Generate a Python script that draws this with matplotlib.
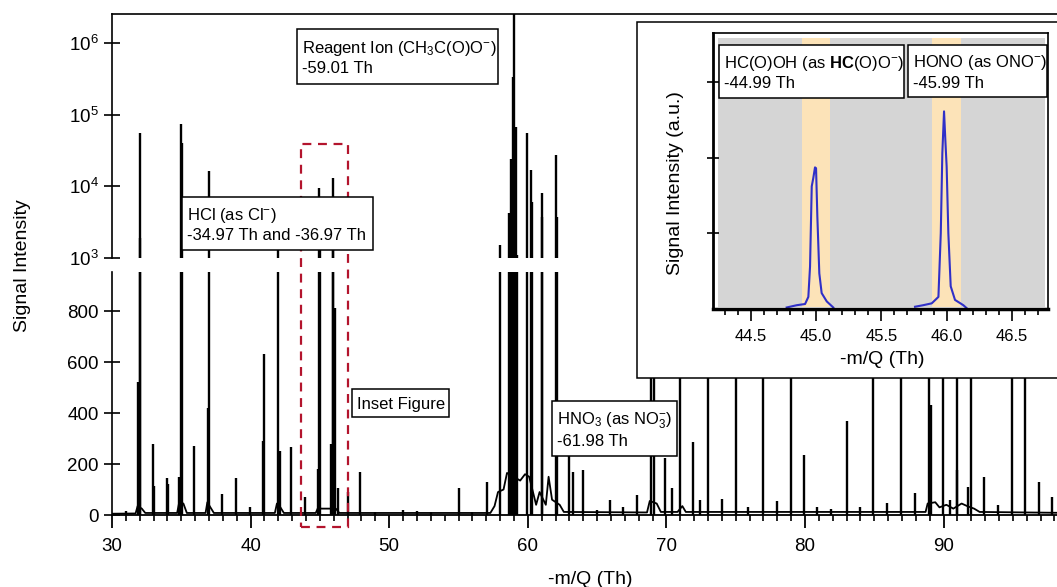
import matplotlib
matplotlib.use("Agg")
import matplotlib.pyplot as plt
from matplotlib.patches import Rectangle
from matplotlib.transforms import blended_transform_factory
from matplotlib.ticker import MultipleLocator, FixedLocator, NullLocator, NullFormatter

plt.rcParams['font.family'] = ['Liberation Sans', 'DejaVu Sans']
plt.rcParams['mathtext.fontset'] = 'custom'
plt.rcParams['mathtext.rm'] = 'Liberation Sans'
plt.rcParams['mathtext.it'] = 'Liberation Sans:italic'
plt.rcParams['mathtext.bf'] = 'Liberation Sans:bold'

# peak apexes of the spectrum (-m/Q in Th, signal)
peak_mz = [31.0, 31.85, 32.0, 32.05, 32.93, 33.05, 33.97, 34.05, 34.85, 34.95, 35.05,
           35.95, 36.9, 36.97, 37.94, 38.98, 39.95, 40.9, 40.97, 41.98, 42.1, 42.95,
           43.95, 44.85, 44.96, 45.02, 45.8, 45.92, 45.97, 46.1, 46.3, 47.0, 47.92,
           49.0, 51.0, 52.0, 53.0, 55.0, 56.0, 57.03,
           57.98, 58.62, 58.8, 58.95, 59.01, 59.12, 59.24, 59.97, 60.2, 60.33,
           61.0, 61.06, 62.0, 62.08, 62.95, 63.24, 63.96, 64.97, 65.93, 66.9, 67.86,
           68.88, 69.1, 69.9, 70.38, 70.98, 71.9, 72.4, 72.98, 73.99, 75.0, 75.9,
           77.0, 77.95, 78.99, 79.93, 80.9, 81.9, 83.0, 83.97, 84.93, 85.94, 86.93,
           87.94, 88.95, 89.1, 89.93, 90.46, 90.94, 91.0, 91.78, 91.95, 92.94, 93.95,
           94.91, 95.87, 96.9, 97.84]
peak_int = [15, 520, 55000, 1900, 280, 115, 145, 120, 150, 75000, 40000,
            270, 420, 16600, 82, 145, 30, 290, 630, 1400, 250, 268,
            70, 180, 9500, 2100, 280, 13000, 2500, 810, 105, 92, 170,
            12, 20, 15, 12, 105, 10, 130,
            1500, 4300, 24000, 340000, 3000000, 68000, 1100, 55000, 17000, 6000,
            8000, 3800, 27500, 3800, 300, 170, 175, 20, 60, 30, 80,
            3000, 2500, 222, 106, 3000, 287, 60, 3000, 62, 3000, 30,
            3000, 55, 3000, 235, 30, 25, 370, 33, 3000, 47, 3000,
            85, 3000, 430, 3000, 59, 3000, 176, 111, 3000, 148, 39,
            3000, 3000, 131, 72]

# baseline and valleys between peaks
base_mz = [30.0, 31.7, 31.85, 32.15, 32.4, 34.7, 34.85, 35.15, 35.4, 36.75, 36.88, 37.1,
           37.35, 41.75, 41.9, 42.15, 42.4, 44.7, 44.88, 45.1, 45.7, 46.15, 46.4,
           57.3, 57.6, 57.85, 58.25, 58.5, 59.45, 59.8, 60.1, 60.6, 60.85, 61.3, 61.5,
           61.75, 62.3, 62.6, 68.6, 68.8, 69.3, 69.6, 70.8, 71.15, 71.4, 88.7, 88.85,
           89.4, 89.7, 90.2, 90.7, 91.3, 91.7, 92.2, 92.6, 99.3]
base_int = [5, 6, 35, 25, 8, 8, 50, 45, 8, 8, 50, 30,
            8, 8, 45, 30, 8, 8, 30, 25, 25, 25, 8,
            8, 35, 90, 100, 165, 135, 160, 150, 40, 90, 40, 150,
            60, 40, 12, 10, 55, 45, 12, 12, 35, 12, 12, 45,
            50, 30, 40, 25, 45, 35, 25, 12, 8]

# inset: the two peaks at -44.99 and -45.99 Th
inset_mz_1 = [44.775, 44.852, 44.916, 44.941, 44.954, 44.967, 44.979, 44.992, 45.0,
              45.01, 45.025, 45.043, 45.082, 45.132]
inset_int_1 = [0.02, 0.05, 0.066, 0.16, 0.56, 1.62, 1.73, 1.87, 1.86,
               1.22, 0.47, 0.21, 0.1, 0.02]
inset_mz_2 = [45.758, 45.82, 45.886, 45.937, 45.955, 45.967, 45.98, 45.99, 46.0,
              46.013, 46.031, 46.064, 46.128, 46.154]
inset_int_2 = [0.03, 0.05, 0.075, 0.16, 1.0, 2.06, 2.61, 2.23, 1.88,
               1.0, 0.3, 0.12, 0.05, 0.01]
inset_span = (44.25, 46.75)
inset_bands = [(44.89, 45.11), (45.89, 46.11)]
inset_window = (43.65, 47.0)

W, H = 1057, 587
fig = plt.figure(figsize=(W / 100, H / 100), dpi=100)


def fx(px):
    return px / W


def fy(py):
    return 1 - py / H


px_per_th = 13.86
ax_top = fig.add_axes([fx(112), fy(258), fx(960), (258 - 14) / H])
ax_bot = fig.add_axes([fx(112), fy(515), fx(960), (515 - 272) / H])

for ax in (ax_top, ax_bot):
    ax.vlines(peak_mz, 1, peak_int, color='black', lw=1.7)
    ax.plot(base_mz, base_int, color='black', lw=1.3)
    ax.set_xlim(30, 30 + 960 / px_per_th)
    ax.spines['right'].set_visible(False)
    ax.spines['left'].set_linewidth(1.2)
    ax.tick_params(axis='y', direction='inout', length=11, width=1.2,
                   labelsize=13.5, pad=4)

ax_top.set_yscale('log')
ax_top.set_ylim(1e3, 2.57e6)
ax_top.yaxis.set_major_locator(FixedLocator([1e3, 1e4, 1e5, 1e6]))
ax_top.yaxis.set_minor_locator(NullLocator())
ax_top.spines['bottom'].set_visible(False)
ax_top.spines['top'].set_linewidth(1.2)
ax_top.tick_params(axis='x', which='both', bottom=False, labelbottom=False)

ax_bot.set_ylim(0, 953)
ax_bot.yaxis.set_major_locator(MultipleLocator(200))
ax_bot.spines['top'].set_visible(False)
ax_bot.spines['bottom'].set_linewidth(1.3)
ax_bot.xaxis.set_major_locator(MultipleLocator(10))
ax_bot.xaxis.set_minor_locator(MultipleLocator(1))
ax_bot.tick_params(axis='x', which='major', direction='out', length=9.5, width=1.3,
                   labelsize=13.5, pad=7)
ax_bot.tick_params(axis='x', which='minor', direction='out', length=4.5, width=1.2)

fig.text(fx(23), fy(266), 'Signal Intensity', rotation=90, ha='center', va='center',
         fontsize=14)
fig.text(fx(590), fy(579), '-m/Q (Th)', ha='center', va='center', fontsize=14)

# dashed box marking the inset window
trans = blended_transform_factory(ax_bot.transData, fig.transFigure)
fig.add_artist(Rectangle((inset_window[0], fy(527)), inset_window[1] - inset_window[0],
                         (527 - 144) / H, transform=trans, fill=False,
                         edgecolor='#b3142d', lw=1.6, linestyle=(0, (4, 3)), zorder=2))


def label_box(x0, y0, x1, y1, text, z=3):
    fig.add_artist(Rectangle((fx(x0), fy(y1)), fx(x1 - x0), (y1 - y0) / H,
                             transform=fig.transFigure, facecolor='white',
                             edgecolor='black', lw=1.1, zorder=z))
    fig.text(fx(x0 + 5), fy((y0 + y1) / 2 + 1), text, ha='left', va='center',
             fontsize=12, linespacing=1.25, zorder=z + 0.5)


label_box(297, 29, 498, 84, 'Reagent Ion (CH$_3$C(O)O$^{-}$)\n-59.01 Th')
label_box(182, 197, 373, 250, 'HCl (as Cl$^{-}$)\n-34.97 Th and -36.97 Th')
label_box(352, 389, 449, 417, 'Inset Figure')
label_box(552, 401, 677, 456, 'HNO$_3$ (as NO$_3^{-}$)\n-61.98 Th')

# inset panel
fig.add_artist(Rectangle((fx(637), fy(378)), fx(1090 - 637), (378 - 22) / H,
                         transform=fig.transFigure, facecolor='white',
                         edgecolor='black', lw=1.1, zorder=5))
ax_in = fig.add_axes([fx(713), fy(309), fx(1048 - 713), (309 - 33) / H], zorder=6)
ax_in.fill_between(inset_span, 0.03, 3.58, color='#d5d5d5', lw=0, zorder=0.5)
for lo, hi in inset_bands:
    ax_in.fill_between([lo, hi], 0.03, 3.58, color='#fce3b8', lw=0, zorder=0.6)
ax_in.plot(inset_mz_1, inset_int_1, color='#3030c8', lw=1.5, zorder=2)
ax_in.plot(inset_mz_2, inset_int_2, color='#3030c8', lw=1.5, zorder=2)
ax_in.set_xlim(44.211, 46.776)
ax_in.set_ylim(0, 3.645)
ax_in.xaxis.set_major_locator(MultipleLocator(0.5))
ax_in.xaxis.set_minor_locator(MultipleLocator(0.1))
ax_in.xaxis.set_major_formatter(plt.FormatStrFormatter('%.1f'))
ax_in.yaxis.set_major_locator(FixedLocator([1, 2, 3]))
ax_in.yaxis.set_major_formatter(NullFormatter())
ax_in.tick_params(axis='x', which='major', direction='out', length=8.5, width=1.2,
                  labelsize=12, pad=6)
ax_in.tick_params(axis='x', which='minor', direction='out', length=4.5, width=1.2)
ax_in.tick_params(axis='y', direction='inout', length=9, width=1.2)
ax_in.spines['left'].set_linewidth(2)
ax_in.spines['bottom'].set_linewidth(2.5)
ax_in.spines['top'].set_linewidth(1.2)
ax_in.spines['right'].set_linewidth(1.2)

fig.text(fx(676), fy(183), 'Signal Intensity (a.u.)', rotation=90, ha='center',
         va='center', fontsize=14, zorder=8)
fig.text(fx(882), fy(360), '-m/Q (Th)', ha='center', va='center', fontsize=14, zorder=8)
label_box(719, 45, 904, 98, 'HC(O)OH (as $\\mathbf{HC}$(O)O$^{-}$)\n-44.99 Th', z=8)
label_box(908, 45, 1047, 97, 'HONO (as ONO$^{-}$)\n-45.99 Th', z=8)

fig.savefig('out.png', dpi=100)
